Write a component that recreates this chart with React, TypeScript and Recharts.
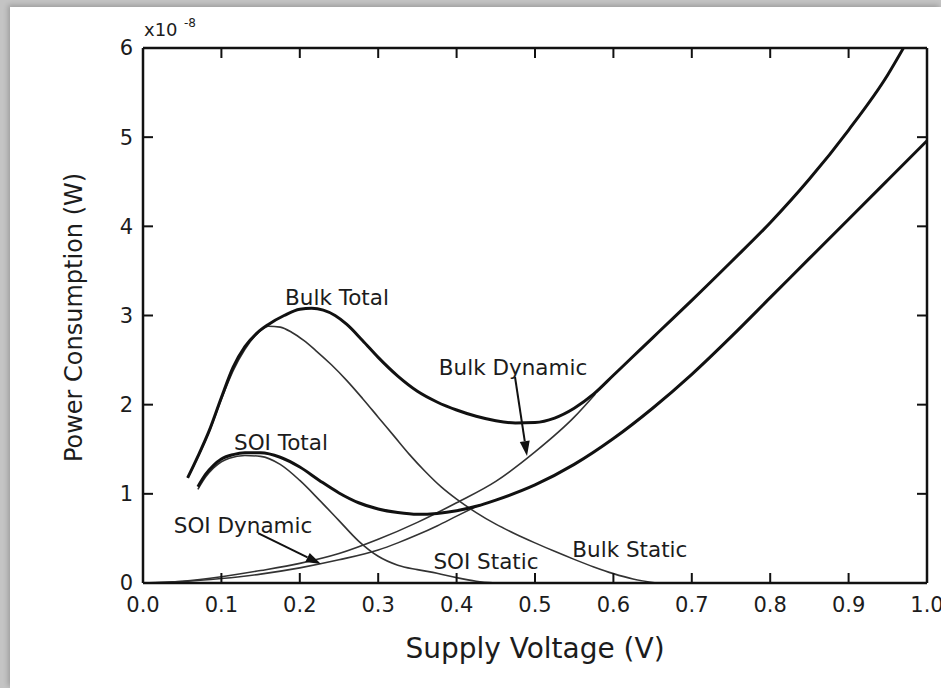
import { LineChart, Line, XAxis, YAxis, ReferenceDot, ReferenceLine } from "recharts";

// supply voltage (V) / power (x1e-8 W)
const bulkTotalV = [0.057, 0.07, 0.085, 0.1, 0.115, 0.13, 0.145, 0.16, 0.18, 0.2, 0.215, 0.23, 0.245, 0.26, 0.28, 0.3, 0.325, 0.35, 0.375, 0.4, 0.425, 0.45, 0.475, 0.5, 0.525, 0.55, 0.575, 0.6, 0.625, 0.65, 0.675, 0.7, 0.75, 0.8, 0.85, 0.9, 0.95, 0.97];
const bulkTotalW = [1.18, 1.42, 1.72, 2.08, 2.42, 2.65, 2.8, 2.9, 3.0, 3.07, 3.08, 3.06, 3.0, 2.9, 2.72, 2.53, 2.32, 2.15, 2.03, 1.94, 1.87, 1.82, 1.795, 1.8, 1.85, 1.96, 2.12, 2.33, 2.54, 2.75, 2.96, 3.17, 3.6, 4.04, 4.53, 5.08, 5.7, 6.0];

const bulkStaticV = [0.057, 0.07, 0.085, 0.1, 0.115, 0.13, 0.145, 0.16, 0.175, 0.19, 0.205, 0.22, 0.24, 0.26, 0.28, 0.3, 0.32, 0.34, 0.36, 0.38, 0.4, 0.425, 0.45, 0.475, 0.5, 0.525, 0.55, 0.575, 0.6, 0.625, 0.655];
const bulkStaticW = [1.18, 1.41, 1.71, 2.06, 2.38, 2.62, 2.79, 2.88, 2.87, 2.81, 2.72, 2.61, 2.45, 2.27, 2.07, 1.86, 1.65, 1.44, 1.25, 1.08, 0.94, 0.79, 0.66, 0.55, 0.45, 0.355, 0.265, 0.18, 0.105, 0.045, 0];

const bulkDynamicV = [0, 0.05, 0.1, 0.15, 0.2, 0.25, 0.3, 0.35, 0.4, 0.45, 0.5, 0.55, 0.577];
const bulkDynamicW = [0, 0.02, 0.07, 0.14, 0.22, 0.33, 0.49, 0.68, 0.9, 1.14, 1.47, 1.86, 2.12];

const soiTotalV = [0.07, 0.08, 0.09, 0.1, 0.115, 0.13, 0.15, 0.175, 0.2, 0.225, 0.25, 0.275, 0.3, 0.325, 0.35, 0.375, 0.4, 0.425, 0.45, 0.5, 0.55, 0.6, 0.65, 0.7, 0.75, 0.8, 0.85, 0.9, 0.95, 1.0];
const soiTotalW = [1.08, 1.22, 1.32, 1.39, 1.44, 1.46, 1.46, 1.41, 1.3, 1.15, 1.01, 0.9, 0.83, 0.79, 0.77, 0.78, 0.81, 0.86, 0.93, 1.1, 1.33, 1.62, 1.96, 2.34, 2.76, 3.2, 3.64, 4.08, 4.52, 4.96];

const soiStaticV = [0.07, 0.08, 0.09, 0.1, 0.11, 0.13, 0.15, 0.175, 0.2, 0.225, 0.25, 0.275, 0.3, 0.325, 0.35, 0.375, 0.4, 0.425, 0.45];
const soiStaticW = [1.05, 1.19, 1.29, 1.36, 1.4, 1.43, 1.42, 1.33, 1.15, 0.93, 0.7, 0.47, 0.3, 0.2, 0.15, 0.11, 0.06, 0.02, 0];

const soiDynamicV = [0, 0.05, 0.1, 0.15, 0.2, 0.25, 0.3, 0.325, 0.35, 0.375, 0.4, 0.43];
const soiDynamicW = [0, 0.015, 0.05, 0.1, 0.17, 0.26, 0.37, 0.45, 0.54, 0.64, 0.75, 0.88];

const xTicks = [0, 0.1, 0.2, 0.3, 0.4, 0.5, 0.6, 0.7, 0.8, 0.9, 1.0];
const yTicks = [0, 1, 2, 3, 4, 5, 6];

const toPoints = (vs: number[], ws: number[]) => vs.map((v, i) => ({ v, w: ws[i] }));

const FONT = "DejaVu Sans";
const INK = "#111";
const TEXT = "#1c1c1c";

// in-plot annotations [label, v, w]
const notes: [string, number, number][] = [
  ["Bulk Total", 0.2474, 3.206],
  ["SOI Total", 0.176, 1.581],
  ["SOI Dynamic", 0.1276, 0.65],
  ["SOI Static", 0.4375, 0.247],
  ["Bulk Static", 0.621, 0.381],
  ["Bulk Dynamic", 0.472, 2.42],
];

const arrows = [
  [{ x: 0.4745, y: 2.31 }, { x: 0.4898, y: 1.424 }],
  [{ x: 0.1467, y: 0.56 }, { x: 0.227, y: 0.213 }],
];

function Arrow(props: any) {
  const { x1, y1, x2, y2 } = props;
  const a = Math.atan2(y2 - y1, x2 - x1);
  const len = 15, half = 5;
  const bx = x2 - len * Math.cos(a), by = y2 - len * Math.sin(a);
  const px = -Math.sin(a) * half, py = Math.cos(a) * half;
  return (
    <g>
      <line x1={x1} y1={y1} x2={bx} y2={by} stroke={INK} strokeWidth={2} />
      <polygon points={`${x2},${y2} ${bx + px},${by + py} ${bx - px},${by - py}`} fill={INK} />
    </g>
  );
}

function YTitle(props: any) {
  const { x, y, width, height } = props.viewBox;
  const cx = x + 74;
  const cy = y + height / 2 + 2;
  return (
    <g fontFamily={FONT} fill={TEXT}>
      <text x={cx} y={cy} transform={`rotate(-90 ${cx} ${cy})`} textAnchor="middle" dominantBaseline="central" fontSize={24}>
        Power Consumption (W)
      </text>
      <text x={x + width + 1} y={y - 12} fontSize={18}>x10</text>
      <text x={x + width + 41} y={y - 21} fontSize={12}>-8</text>
    </g>
  );
}

const NoLabel = () => <g />;

const axisLine = { stroke: INK, strokeWidth: 2.5 };
const tickLine = { stroke: INK, strokeWidth: 2 };

export default function App() {
  return (
    <div style={{ position: "absolute", left: 0, top: 0, width: 941, height: 688, background: "#c4c4c4", overflow: "hidden" }}>
      <div style={{ position: "absolute", left: 10, top: 7, right: 0, bottom: 0, background: "#fff", boxShadow: "-2px -2px 5px rgba(0,0,0,0.2)" }} />
      <div style={{ position: "absolute", left: 0, top: 0 }}>
        <LineChart width={941} height={688} margin={{ top: 28, right: 0, bottom: 0, left: 0 }} style={{ fontFamily: FONT }}>
          <XAxis
            dataKey="v"
            type="number"
            domain={[0, 1]}
            ticks={xTicks}
            allowDataOverflow
            height={105}
            tickSize={-10}
            tickMargin={24}
            tickFormatter={(v: number) => v.toFixed(1)}
            tick={{ fill: TEXT, fontSize: 21, fontFamily: FONT }}
            axisLine={axisLine}
            tickLine={tickLine}
            label={{ value: "Supply Voltage (V)", position: "insideBottom", offset: 30, fontSize: 28, fill: TEXT, fontFamily: FONT }}
          />
          <XAxis
            xAxisId="top"
            dataKey="v"
            orientation="top"
            type="number"
            domain={[0, 1]}
            ticks={xTicks}
            allowDataOverflow
            height={20}
            tick={NoLabel}
            tickSize={-10}
            axisLine={axisLine}
            tickLine={tickLine}
          />
          <YAxis
            type="number"
            domain={[0, 6]}
            ticks={yTicks}
            allowDataOverflow
            width={143}
            tickSize={-10}
            tickMargin={20}
            tick={{ fill: TEXT, fontSize: 21, fontFamily: FONT }}
            axisLine={axisLine}
            tickLine={tickLine}
            label={{ content: YTitle }}
          />
          <YAxis
            yAxisId="right"
            orientation="right"
            type="number"
            domain={[0, 6]}
            ticks={yTicks}
            allowDataOverflow
            width={14}
            tick={NoLabel}
            tickSize={-10}
            axisLine={axisLine}
            tickLine={tickLine}
          />

          <Line data={toPoints(bulkDynamicV, bulkDynamicW)} dataKey="w" type="monotone" stroke="#333" strokeWidth={1.6} dot={false} activeDot={false} isAnimationActive={false} />
          <Line data={toPoints(soiDynamicV, soiDynamicW)} dataKey="w" type="monotone" stroke="#333" strokeWidth={1.6} dot={false} activeDot={false} isAnimationActive={false} />
          <Line data={toPoints(bulkStaticV, bulkStaticW)} dataKey="w" type="monotone" stroke="#333" strokeWidth={1.6} dot={false} activeDot={false} isAnimationActive={false} />
          <Line data={toPoints(soiStaticV, soiStaticW)} dataKey="w" type="monotone" stroke="#333" strokeWidth={1.6} dot={false} activeDot={false} isAnimationActive={false} />
          <Line data={toPoints(bulkTotalV, bulkTotalW)} dataKey="w" type="monotone" stroke={INK} strokeWidth={3} dot={false} activeDot={false} isAnimationActive={false} />
          <Line data={toPoints(soiTotalV, soiTotalW)} dataKey="w" type="monotone" stroke={INK} strokeWidth={3} dot={false} activeDot={false} isAnimationActive={false} />
          {/* same series bound to the mirror axes so the top/right frame gets drawn */}
          <Line xAxisId="top" yAxisId="right" data={toPoints(soiTotalV, soiTotalW)} dataKey="w" type="monotone" stroke="none" dot={false} activeDot={false} legendType="none" isAnimationActive={false} />

          {arrows.map((seg, i) => (
            <ReferenceLine key={`a${i}`} segment={seg} shape={Arrow} />
          ))}
          {notes.map(([text, v, w]) => (
            <ReferenceDot
              key={text}
              x={v}
              y={w}
              r={0}
              fill="none"
              stroke="none"
              label={{ value: text, position: "center", fontSize: 21.5, fill: TEXT, fontFamily: FONT }}
            />
          ))}
        </LineChart>
      </div>
    </div>
  );
}
